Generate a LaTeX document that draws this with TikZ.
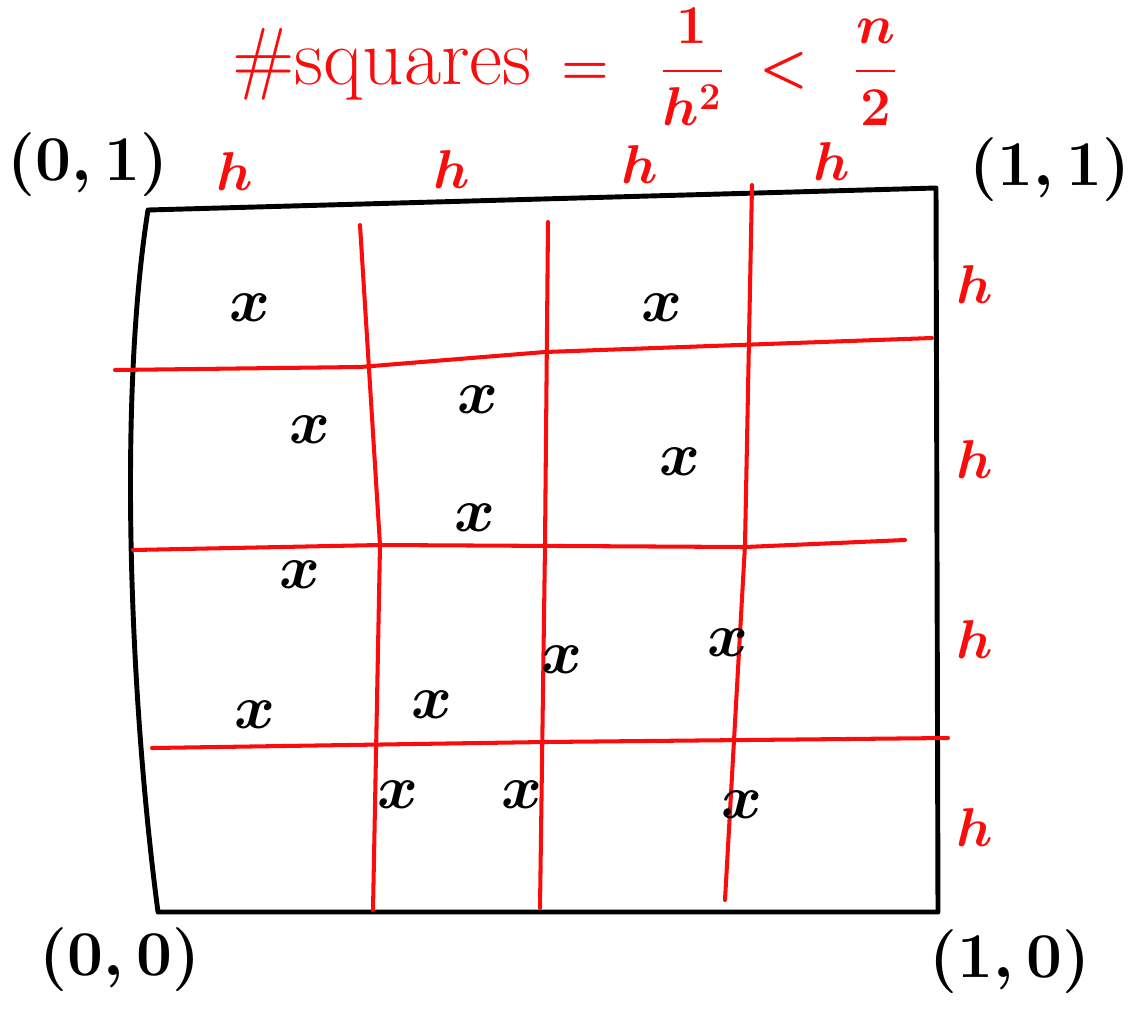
\documentclass[tikz,border=0pt]{standalone}
\usepackage{graphicx}
\usepackage{amsmath}
\definecolor{inkred}{RGB}{250,12,12}
\tikzset{sketch/.style={x=0.02cm,y=-0.02cm},
  blackink/.style={line width=2.8pt,line cap=round,line join=round},
  redink/.style={inkred,line width=2.3pt,line cap=round},
  ptmark/.style={font=\fontsize{20}{20}\selectfont\boldmath},
  hlab/.style={inkred,font=\fontsize{20}{20}\selectfont\boldmath},
  cornerlab/.style={font=\fontsize{20}{20}\selectfont\boldmath}}

\begin{document}
\begin{tikzpicture}[sketch]
    \useasboundingbox (0,0) rectangle (1130,1018);
    % unit square
    \coordinate (tl) at (148,210);
    \coordinate (tr) at (936,188);
    \coordinate (br) at (938,912);
    \coordinate (bl) at (158,912);
    \draw[blackink] (tl) -- (tr) -- (br) -- (bl) .. controls (130,700) and (118,400) .. (tl);
    % grid of side h
    \draw[redink] (360,225) -- (380,545) -- (373,910);
    \draw[redink] (548,222) -- (545,545) -- (540,908);
    \draw[redink] (752,185) -- (745,545) -- (725,900);
    \draw[redink] (115,370) -- (360,367) -- (545,352) -- (932,338);
    \draw[redink] (133,550) -- (380,545) -- (745,547) -- (905,540);
    \draw[redink] (152,748) -- (545,742) -- (948,738);
    % sample points
    \foreach \px/\py in {250/308,662/308,310/430,478/400,680/462,475/518,300/575,
                         255/715,432/705,562/660,728/643,398/795,522/795,742/805}
        \node[ptmark] at (\px,\py) {\scalebox{1.7}{$x$}};
    % side lengths
    \foreach \hx/\hy in {235/172,452/170,640/165,832/162}
        \node[hlab] at (\hx,\hy) {\scalebox{1.5}{$h$}};
    \foreach \hy in {285,460,640,828}
        \node[hlab] at (975,\hy) {\scalebox{1.5}{$h$}};
    % corners
    \node[cornerlab] (c01) at (88,165) {\scalebox{1.75}{$(0,1)$}};
    \node[cornerlab] (c11) at (1050,170) {\scalebox{1.75}{$(1,1)$}};
    \node[cornerlab] (c00) at (120,960) {\scalebox{1.75}{$(0,0)$}};
    \node[cornerlab] (c10) at (1010,962) {\scalebox{1.75}{$(1,0)$}};
    % count of squares
    \node[inkred,anchor=west,inner sep=0pt,font=\fontsize{20}{20}\selectfont\boldmath] (title) at (232,67)
        {\scalebox{2.3}{\#squares}\hspace{17pt}\scalebox{1.5}{$=$\hspace{19pt}$\dfrac{1}{h^2}$\hspace{13pt}$<$\hspace{17pt}$\dfrac{n}{2}$}};
\end{tikzpicture}
\end{document}
